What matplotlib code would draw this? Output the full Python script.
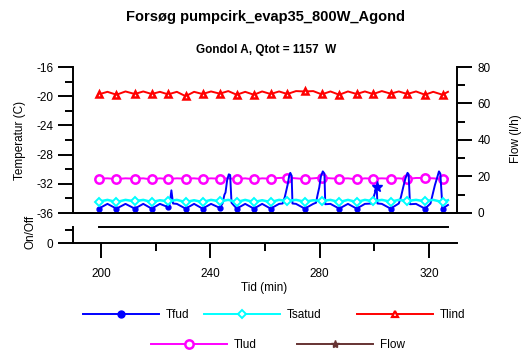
import numpy as np
import matplotlib
matplotlib.use("Agg")
import matplotlib.pyplot as plt
from matplotlib.lines import Line2D
from matplotlib.ticker import MultipleLocator

plt.rcParams["font.family"] = ["Liberation Sans", "DejaVu Sans"]
plt.rcParams["font.size"] = 8.5
plt.rcParams["axes.unicode_minus"] = False

# common sample times (markers sit on every other point)
t_grid = [199.2, 202.4, 205.7, 209.0, 212.4, 215.5, 218.6, 221.6, 224.6, 227.8,
          231.0, 234.1, 237.2, 240.3, 243.5, 246.6, 249.7, 252.8, 256.0, 259.0,
          262.1, 265.2, 268.2, 271.4, 274.6, 277.7, 280.8, 284.0, 287.2, 290.4,
          293.6, 296.6, 299.6, 302.8, 306.0, 309.0, 312.1, 315.3, 318.6, 321.6,
          325.0, 327.0]

tlind = [-19.75, -19.4, -19.8, -19.35, -19.7, -19.35, -19.7, -19.4, -19.75, -19.4,
         -20.0, -19.4, -19.7, -19.35, -19.65, -19.3, -19.8, -19.4, -19.8, -19.35,
         -19.7, -19.35, -19.7, -19.3, -19.35, -19.3, -19.75, -19.35, -19.8, -19.35,
         -19.7, -19.35, -19.7, -19.3, -19.65, -19.35, -19.7, -19.35, -19.8, -19.4,
         -19.8, -19.4]

tsatud = [-34.45, -34.2, -34.5, -34.2, -34.4, -34.2, -34.5, -34.25, -34.4, -34.2,
          -34.5, -34.25, -34.5, -34.2, -34.4, -34.2, -34.5, -34.2, -34.5, -34.25,
          -34.5, -34.2, -34.35, -34.2, -34.45, -34.25, -34.35, -34.2, -34.5, -34.2,
          -34.5, -34.2, -34.4, -34.2, -34.45, -34.2, -34.35, -34.2, -34.4, -34.2,
          -34.5, -34.25]

tlud = [-31.3, -31.25, -31.35, -31.25, -31.3, -31.25, -31.4, -31.25, -31.35, -31.25,
        -31.3, -31.25, -31.35, -31.25, -31.3, -31.25, -31.35, -31.25, -31.4, -31.25,
        -31.3, -31.2, -31.15, -31.25, -31.35, -31.25, -31.15, -31.25, -31.3, -31.25,
        -31.4, -31.25, -31.3, -31.25, -31.3, -31.25, -31.35, -31.2, -31.2, -31.25,
        -31.35, -31.3]

tfud_t = [199.2, 202.4, 205.7, 209.0, 212.4, 215.5, 218.6, 221.6, 224.6, 225.2,
          225.8, 226.4, 227.8, 231.0, 234.1, 237.2, 240.3, 243.5, 244.5, 245.2,
          245.6, 246.2, 246.8, 247.3, 247.8, 249.7, 252.8, 256.0, 259.0, 262.1,
          265.2, 266.5, 267.3, 267.8, 268.4, 268.9, 269.3, 269.8, 270.1, 271.4,
          274.6, 277.7, 278.7, 279.3, 279.9, 280.5, 281.2, 281.8, 282.1, 284.0,
          287.2, 290.4, 293.6, 296.6, 299.3, 299.8, 300.9, 301.2, 302.8, 306.0,
          309.0, 309.8, 310.6, 311.4, 312.2, 312.6, 313.1, 315.3, 318.6, 320.6,
          321.3, 322.2, 323.0, 323.7, 324.2, 325.0, 327.0]
tfud_v = [-35.4, -34.75, -35.4, -34.75, -35.4, -34.75, -35.4, -34.75, -35.2, -34.7,
          -32.9, -34.7, -34.75, -35.4, -34.75, -35.4, -34.75, -35.3, -34.7, -33.5,
          -33.2, -31.5, -30.7, -30.8, -34.6, -35.4, -34.75, -35.4, -34.75, -35.4,
          -34.75, -34.7, -33.8, -33.0, -32.0, -30.9, -30.5, -30.9, -34.7, -34.75,
          -35.4, -34.75, -34.6, -33.5, -32.5, -31.0, -30.3, -30.6, -34.8, -34.75,
          -35.4, -34.75, -35.4, -34.75, -34.7, -33.8, -32.5, -34.7, -34.75, -35.4,
          -34.7, -33.8, -32.5, -31.3, -30.5, -30.7, -34.8, -34.75, -35.4, -34.7,
          -33.6, -32.2, -31.2, -30.3, -30.6, -35.4, -34.9]

star_t = [300.9]
star_v = [-32.5]

onoff_t = [199.2, 327.0]
onoff_v = [1.0, 1.0]

W, H = 527, 351
fig = plt.figure(figsize=(W / 100, H / 100), dpi=100)
ax = fig.add_axes([73 / W, 1 - 213 / H, 384 / W, 146 / H])
ax2 = ax.twinx()
axb = fig.add_axes([73 / W, 1 - 243 / H, 384 / W, 16 / H])

blue, cyan, red, mag, brown = "#0000ff", "#00ffff", "#ff0000", "#ff00ff", "#663333"
mk = np.isin(tfud_t, t_grid[::2])

ax.plot(t_grid, tlind, color=red, lw=1.4, marker="^", ms=5, mfc="white", mew=1.8,
        markevery=slice(0, None, 2))
ax.plot(t_grid, tlud, color=mag, lw=1.4, marker="o", ms=6, mfc="white", mew=1.8,
        markevery=slice(0, None, 2))
ax.plot(tfud_t, tfud_v, color=blue, lw=1.4, marker="o", ms=3.5, markevery=list(np.where(mk)[0]))
ax.plot(t_grid, tsatud, color=cyan, lw=1.8, marker="D", ms=4, mfc="white", mew=1.4,
        markevery=slice(0, None, 2))
ax.plot(star_t, star_v, ls="none", color=blue, marker="*", ms=8)

axb.plot(onoff_t, onoff_v, color="black", lw=1.4, clip_on=False)

xlim = (189.8, 330.3)
for a in (ax, axb):
    a.set_xlim(*xlim)
ax.set_ylim(-36, -16)
ax2.set_ylim(0, 80)
axb.set_ylim(0, 1)

ax.set_yticks([-36, -32, -28, -24, -20, -16])
ax.yaxis.set_minor_locator(MultipleLocator(2))
ax2.set_yticks([0, 20, 40, 60, 80])
ax2.yaxis.set_minor_locator(MultipleLocator(10))
axb.set_yticks([0])
axb.set_yticks([0.8], minor=True)
axb.set_xticks([200, 240, 280, 320])
axb.xaxis.set_minor_locator(MultipleLocator(20))

ax.tick_params(axis="x", bottom=False, labelbottom=False)
for a in (ax, ax2, axb):
    a.tick_params(which="major", length=11, width=1.4, pad=3, labelsize=8.5)
    a.tick_params(which="minor", length=5.5, width=1.4)
axb.tick_params(axis="x", pad=7)
ax2.tick_params(axis="y", pad=4)

for a in (ax, ax2, axb):
    for s in a.spines.values():
        s.set_linewidth(1.4)
    a.spines["top"].set_visible(False)
ax.spines["right"].set_visible(False)
ax2.spines["left"].set_visible(False)
axb.spines["right"].set_visible(False)
axb.patch.set_alpha(0)

fig.text(266 / W, 1 - 17 / H, "Forsøg pumpcirk_evap35_800W_Agond", ha="center", va="center",
         fontsize=10.5, fontweight="bold")
fig.text(266 / W, 1 - 50 / H, "Gondol A, Qtot = 1157  W", ha="center", va="center",
         fontsize=8.5, fontweight="bold")
fig.text(20 / W, 1 - 140 / H, "Temperatur (C)", rotation=90, ha="center", va="center")
fig.text(31 / W, 1 - 232 / H, "On/Off", rotation=90, ha="center", va="center")
fig.text(516 / W, 1 - 139 / H, "Flow (l/h)", rotation=90, ha="center", va="center")
fig.text(264 / W, 1 - 288 / H, "Tid (min)", ha="center", va="center")

legend_items = [
    (Line2D([], [], color=blue, lw=1.4, marker="o", ms=5), "Tfud", 83, 315),
    (Line2D([], [], color=cyan, lw=1.4, marker="D", ms=4, mfc="white", mew=1.4), "Tsatud", 204, 315),
    (Line2D([], [], color=red, lw=1.4, marker="^", ms=5, mfc="white", mew=1.6), "Tlind", 357, 315),
    (Line2D([], [], color=mag, lw=1.4, marker="o", ms=6, mfc="white", mew=1.8), "Tlud", 151, 345),
    (Line2D([], [], color=brown, lw=1.4, marker="*", ms=6), "Flow", 297, 345),
]
for h, lab, x, y in legend_items:
    fig.legend([h], [lab], loc="center left", bbox_to_anchor=(x / W, 1 - y / H), frameon=False,
               handlelength=6.4, handletextpad=0.6, borderpad=0, borderaxespad=0,
               fontsize=8.5)

fig.savefig("out.png", dpi=100)
